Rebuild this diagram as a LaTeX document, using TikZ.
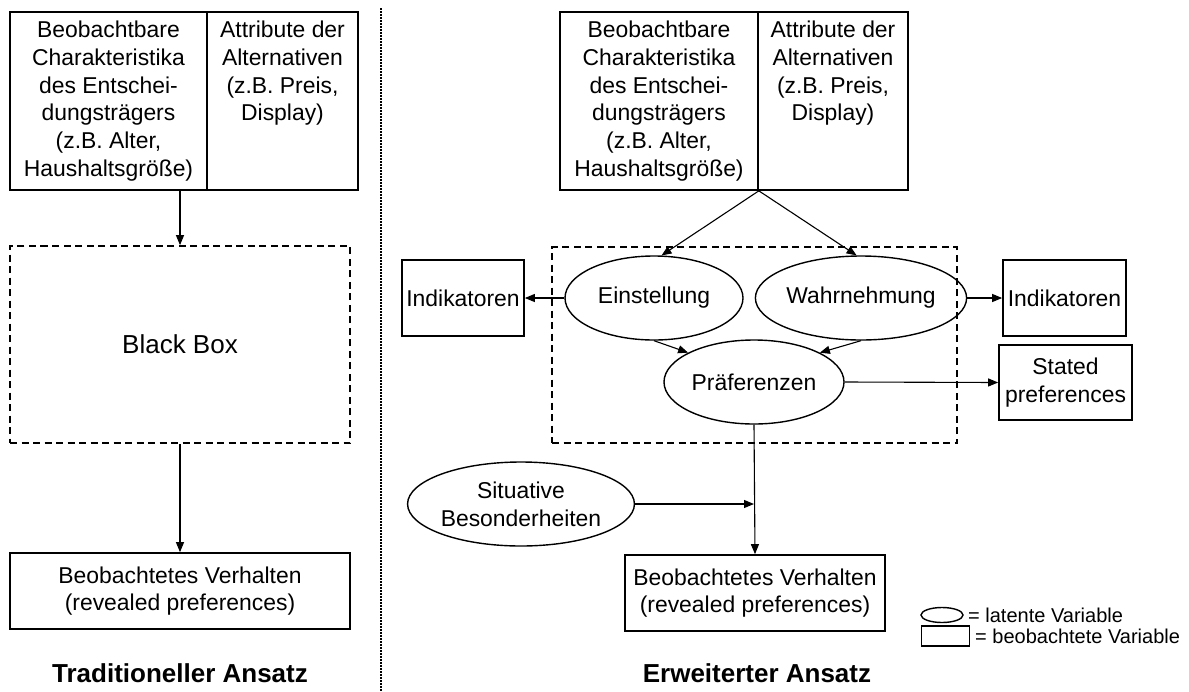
\documentclass[tikz,border=0pt]{standalone}
\usepackage{fontspec}
\setmainfont{Liberation Sans}
\usetikzlibrary{shapes.geometric,arrows.meta,calc}
\begin{document}
\begin{tikzpicture}[x=1pt,y=-1pt,
  every node/.style={font=\fontsize{22.9}{27.8}\selectfont, inner sep=0pt},
  obs/.style={draw, line width=1.7pt, rectangle, align=center},
  lat/.style={draw, line width=1.4pt, ellipse, align=center},
  dbox/.style={draw, line width=1.7pt, dash pattern=on 7pt off 4.5pt, rectangle, align=center},
  arr/.style={line width=1.1pt, -{Triangle[length=10pt,width=8pt]}},
  sepline/.style={line width=2.4pt, dash pattern=on 1.8pt off 1.2pt},
  ttl/.style={font=\fontsize{26}{30}\selectfont\bfseries},
  lgd/.style={font=\fontsize{20}{24}\selectfont, anchor=west},
]
\useasboundingbox (0,0) rectangle (1189,691);

% ---------- left: traditional approach ----------
\node[obs, minimum width=197, minimum height=178] (tlA) at (108.5,101)
  {Beobachtbare\\Charakteristika\\des Entschei-\\dungstr\"agers\\(z.B. Alter,\\Haushaltsgr\"o\ss e)};
\node[obs, minimum width=151, minimum height=178] (tlB) at (282.5,101)
  {Attribute der\\Alternativen\\(z.B. Preis,\\Display)\\\phantom{(X)}\\\phantom{(X)}};
\node[dbox, minimum width=340, minimum height=197, font=\fontsize{26}{30}\selectfont] (bb) at (180,344.5) {Black Box};
\node[obs, minimum width=340, minimum height=76] (bl) at (180,591)
  {Beobachtetes Verhalten\\(revealed preferences)};
\draw[arr] (bb.north |- tlA.south) -- (bb.north);
\draw[arr] (bb.south) -- (bl.north);
\node[ttl] (t1) at (180,673) {Traditioneller Ansatz};

% ---------- separator ----------
\draw[sepline] (381,8) -- (381,691);

% ---------- right: extended approach ----------
\node[obs, minimum width=198, minimum height=178] (trA) at (659,101)
  {Beobachtbare\\Charakteristika\\des Entschei-\\dungstr\"agers\\(z.B. Alter,\\Haushaltsgr\"o\ss e)};
\node[obs, minimum width=150, minimum height=178] (trB) at (833,101)
  {Attribute der\\Alternativen\\(z.B. Preis,\\Display)\\\phantom{(X)}\\\phantom{(X)}};
\node[dbox, minimum width=405, minimum height=196] (db) at (754.5,345) {};
\node[lat, minimum width=178, minimum height=84] (ein) at (654,298) {Einstellung};
\node[lat, minimum width=179, minimum height=84] (wahr) at (861,298) {Wahrnehmung};
\node[lat, minimum width=180, minimum height=84] (pref) at (754,382) {Pr\"aferenzen};
\node[obs, minimum width=122, minimum height=76] (ind1) at (463,298) {Indikatoren};
\node[obs, minimum width=123, minimum height=76] (ind2) at (1064.5,298) {Indikatoren};
\node[obs, minimum width=133, minimum height=75] (stp) at (1065.5,382.5) {Stated\\preferences};
\node[lat, minimum width=196, minimum height=84] (sit) at (521,504) {Situative\\Besonderheiten};
\node[obs, minimum width=260, minimum height=76] (br) at (755,593)
  {Beobachtetes Verhalten\\(revealed preferences)};
\node[ttl] (t2) at (757,673) {Erweiterter Ansatz};

\draw[arr] (trA.south east) -- (ein.80);
\draw[arr] (trA.south east) -- (wahr.96);
\draw[arr] (ein.west) -- (ind1.east);
\draw[arr] (wahr.east) -- (ind2.west);
\draw[arr] (ein.south) -- (pref.156);
\draw[arr] (wahr.south) -- (pref.24);
\draw[arr] (pref.east) -- (stp.west);
\draw[arr] (pref.south) -- (br.north);
\draw[arr] (sit.east) -- (sit.east -| pref.south);

% ---------- legend ----------
\node[lat, minimum width=42, minimum height=15] (lgE) at (942,615) {};
\node[lgd] (lgEt) at (968,615) {= latente Variable};
\node[obs, minimum width=48, minimum height=20] (lgR) at (945.5,636) {};
\node[lgd] (lgRt) at (975,636) {= beobachtete Variable};
\end{tikzpicture}
\end{document}
